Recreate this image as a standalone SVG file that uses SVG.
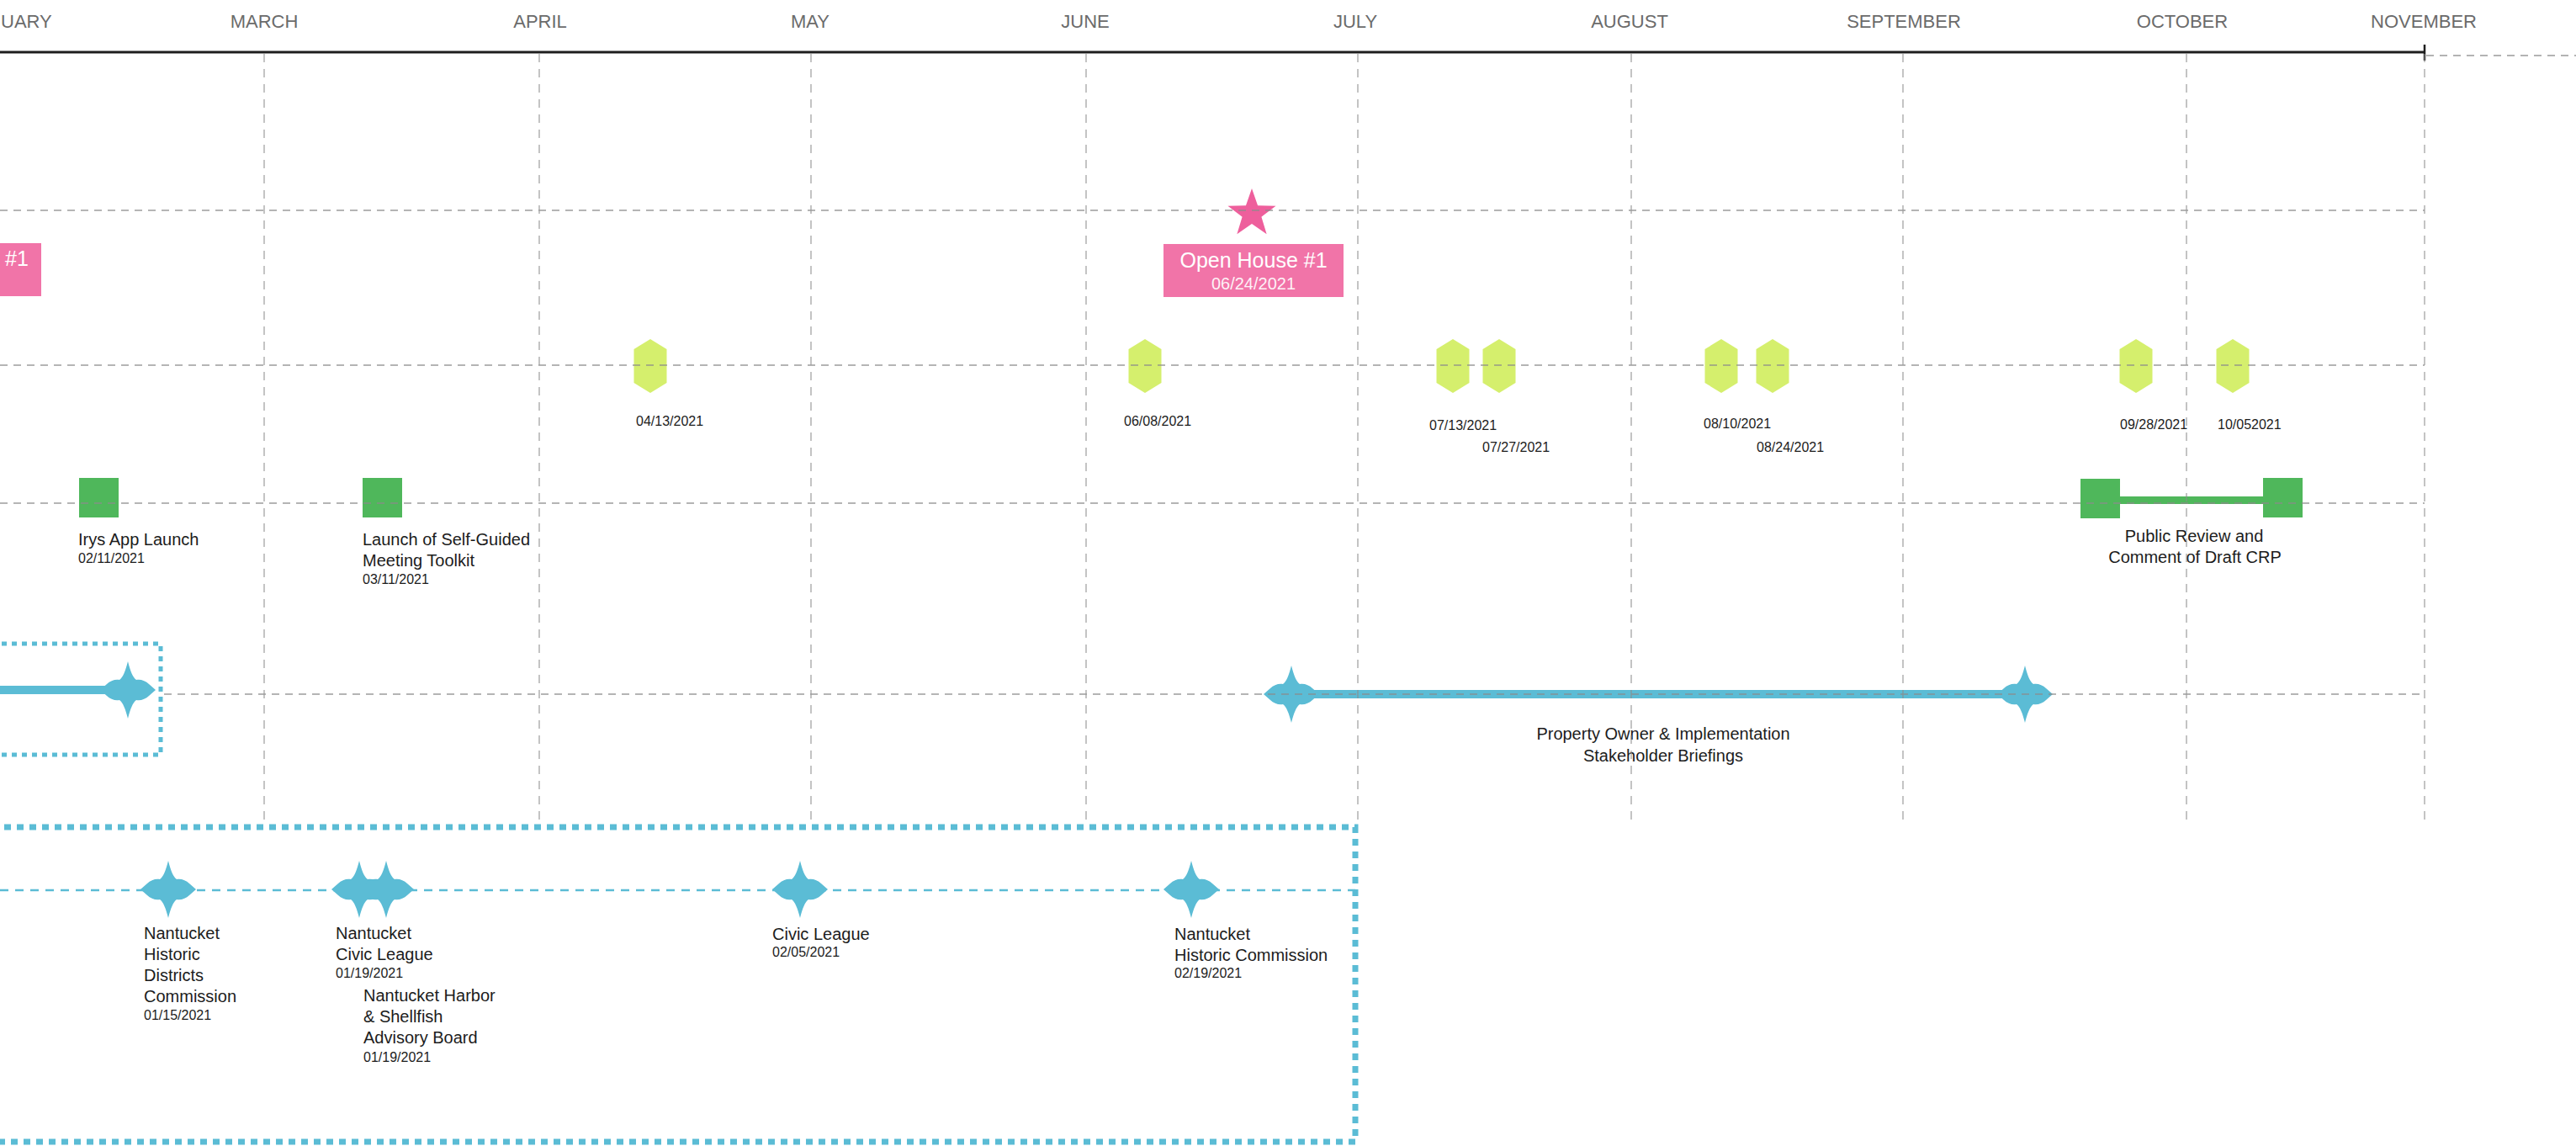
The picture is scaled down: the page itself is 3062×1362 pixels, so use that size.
<svg xmlns="http://www.w3.org/2000/svg" xmlns:xlink="http://www.w3.org/1999/xlink" width="3062" height="1362" viewBox="0 0 3062 1362">
<style>
.month{font-family:"Liberation Sans",Arial,sans-serif;font-size:22px;fill:#6b6b6b;text-anchor:middle}
.lbl{font-family:"Liberation Sans",Arial,sans-serif;font-size:20px;fill:#1c1c1c}
.date{font-family:"Liberation Sans",Arial,sans-serif;font-size:16px;fill:#1c1c1c}
.mid{text-anchor:middle}
.vgrid{stroke:#8c8c8c;stroke-width:1.2;stroke-dasharray:10 8;fill:none}
.hgrid{stroke:#8c8c8c;stroke-width:1.3;stroke-dasharray:9 7;fill:none}
.hex{fill:#d5ef6d}
.sq{fill:#4fb75b}
.tick{fill:#5bbcd5}
.pink{fill:#f174a8}
.wt{font-family:"Liberation Sans",Arial,sans-serif;fill:#ffffff;text-anchor:middle}
</style>
<defs>
<polygon id="hexa" points="0,-32 19.5,-20 19.5,20 0,32 -19.5,20 -19.5,-20"/>
<path id="blue4" d="M0,-34 C3,-22 6,-15 10,-12 C15,-13 21,-11 25,-7 L33,0 L25,7 C21,11 15,13 10,12 C6,15 3,22 0,34 C-3,22 -6,15 -10,12 C-15,13 -21,11 -25,7 L-33,0 L-25,-7 C-21,-11 -15,-13 -10,-12 C-6,-15 -3,-22 0,-34 Z"/>
</defs>
<rect x="0" y="0" width="3062" height="1362" fill="#ffffff"/>

<g id="axis">
  <line x1="0" y1="62" x2="2882" y2="62" stroke="#1e1e1e" stroke-width="3"/>
  <line x1="2882" y1="53" x2="2882" y2="72" stroke="#1e1e1e" stroke-width="2.5"/>
  <line x1="2884" y1="66" x2="3062" y2="66" stroke="#9a9a9a" stroke-width="1.5" stroke-dasharray="9 7"/>
  <text class="month" x="1" y="33" style="text-anchor:start">UARY</text>
  <text class="month" x="314" y="33">MARCH</text>
  <text class="month" x="642" y="33">APRIL</text>
  <text class="month" x="963" y="33">MAY</text>
  <text class="month" x="1290" y="33">JUNE</text>
  <text class="month" x="1611" y="33">JULY</text>
  <text class="month" x="1937" y="33">AUGUST</text>
  <text class="month" x="2263" y="33">SEPTEMBER</text>
  <text class="month" x="2594" y="33">OCTOBER</text>
  <text class="month" x="2881" y="33">NOVEMBER</text>
</g>

<g id="connectors">
  <rect x="0" y="815" width="152" height="10" fill="#5bbcd5"/>
  <rect x="1535" y="820" width="872" height="10" fill="#5bbcd5"/>
  <rect x="2500" y="590" width="210" height="9" fill="#4fb75b"/>
  <line x1="0" y1="1058" x2="1611" y2="1058" stroke="#5bbcd5" stroke-width="2.5" stroke-dasharray="10 8"/>
</g>

<g id="group-boxes" fill="none" stroke="#5bbcd5">
  <rect x="-10" y="765" width="201" height="132" stroke-width="5" stroke-dasharray="6 6"/>
  <rect x="-10" y="983" width="1621" height="374" stroke-width="7" stroke-dasharray="8 7"/>
</g>

<g id="node-openhouse-prev">
  <rect class="pink" x="-120" y="289" width="169" height="63"/>
  <text class="wt" x="20" y="316" font-size="25">#1</text>
</g>

<g id="node-openhouse1">
  <polygon fill="#ee5f9c" transform="translate(1488,254)" points="0,-30 7.05,-9.71 28.53,-9.27 11.41,3.71 17.63,24.27 0,12 -17.63,24.27 -11.41,3.71 -28.53,-9.27 -7.05,-9.71"/>
  <rect class="pink" x="1383" y="290" width="214" height="63"/>
  <text class="wt" x="1490" y="318" font-size="25">Open House #1</text>
  <text class="wt" x="1490" y="344" font-size="20" fill-opacity="0.92">06/24/2021</text>
</g>

<g id="node-h0413"><use xlink:href="#hexa" class="hex" x="773" y="435"/><text class="date" x="756" y="506">04/13/2021</text></g>
<g id="node-h0608"><use xlink:href="#hexa" class="hex" x="1361" y="435"/><text class="date" x="1336" y="506">06/08/2021</text></g>
<g id="node-h0713"><use xlink:href="#hexa" class="hex" x="1727" y="435"/><text class="date" x="1699" y="511">07/13/2021</text></g>
<g id="node-h0727"><use xlink:href="#hexa" class="hex" x="1782" y="435"/><text class="date" x="1762" y="537">07/27/2021</text></g>
<g id="node-h0810"><use xlink:href="#hexa" class="hex" x="2046" y="435"/><text class="date" x="2025" y="509">08/10/2021</text></g>
<g id="node-h0824"><use xlink:href="#hexa" class="hex" x="2107" y="435"/><text class="date" x="2088" y="537">08/24/2021</text></g>
<g id="node-h0928"><use xlink:href="#hexa" class="hex" x="2539" y="435"/><text class="date" x="2520" y="510">09/28/2021</text></g>
<g id="node-h1005"><use xlink:href="#hexa" class="hex" x="2654" y="435"/><text class="date" x="2636" y="510">10/052021</text></g>

<g id="node-irys">
  <rect class="sq" x="94" y="568" width="47" height="47"/>
  <text class="lbl" x="93" y="648">Irys App Launch</text>
  <text class="date" x="93" y="669">02/11/2021</text>
</g>
<g id="node-toolkit">
  <rect class="sq" x="431" y="568" width="47" height="47"/>
  <text class="lbl" x="431" y="648">Launch of Self-Guided</text>
  <text class="lbl" x="431" y="673">Meeting Toolkit</text>
  <text class="date" x="431" y="694">03/11/2021</text>
</g>
<g id="node-publicreview">
  <rect class="sq" x="2473" y="569" width="47" height="47"/>
  <rect class="sq" x="2690" y="568" width="47" height="47"/>
  <text class="lbl mid" x="2608" y="644">Public Review and</text>
  <text class="lbl mid" x="2609" y="669">Comment of Draft CRP</text>
</g>

<g id="node-brief-prev"><use xlink:href="#blue4" class="tick" x="152" y="820"/></g>
<g id="node-property">
  <use xlink:href="#blue4" class="tick" x="1535" y="825"/>
  <use xlink:href="#blue4" class="tick" x="2407" y="825"/>
  <text class="lbl mid" x="1977" y="879">Property Owner &amp; Implementation</text>
  <text class="lbl mid" x="1977" y="905">Stakeholder Briefings</text>
</g>

<g id="node-nhdc">
  <use xlink:href="#blue4" class="tick" x="200" y="1057"/>
  <text class="lbl" x="171" y="1116">Nantucket</text>
  <text class="lbl" x="171" y="1141">Historic</text>
  <text class="lbl" x="171" y="1166">Districts</text>
  <text class="lbl" x="171" y="1191">Commission</text>
  <text class="date" x="171" y="1212">01/15/2021</text>
</g>
<g id="node-ncl">
  <use xlink:href="#blue4" class="tick" x="427" y="1057"/>
  <text class="lbl" x="399" y="1116">Nantucket</text>
  <text class="lbl" x="399" y="1141">Civic League</text>
  <text class="date" x="399" y="1162">01/19/2021</text>
</g>
<g id="node-nhsab">
  <use xlink:href="#blue4" class="tick" x="459" y="1057"/>
  <text class="lbl" x="432" y="1190">Nantucket Harbor</text>
  <text class="lbl" x="432" y="1215">&amp; Shellfish</text>
  <text class="lbl" x="432" y="1240">Advisory Board</text>
  <text class="date" x="432" y="1262">01/19/2021</text>
</g>
<g id="node-cl">
  <use xlink:href="#blue4" class="tick" x="951" y="1057"/>
  <text class="lbl" x="918" y="1117">Civic League</text>
  <text class="date" x="918" y="1137">02/05/2021</text>
</g>
<g id="node-nhc">
  <use xlink:href="#blue4" class="tick" x="1416" y="1057"/>
  <text class="lbl" x="1396" y="1117">Nantucket</text>
  <text class="lbl" x="1396" y="1142">Historic Commission</text>
  <text class="date" x="1396" y="1162">02/19/2021</text>
</g>

<g id="grid" opacity="0.85">
  <line class="hgrid" x1="0" y1="250" x2="2882" y2="250"/>
  <line class="hgrid" x1="0" y1="434" x2="2882" y2="434"/>
  <line class="hgrid" x1="0" y1="598" x2="2882" y2="598"/>
  <line class="hgrid" x1="195" y1="825" x2="2882" y2="825"/>
  <line class="vgrid" x1="314" y1="64" x2="314" y2="978"/>
  <line class="vgrid" x1="641" y1="64" x2="641" y2="978"/>
  <line class="vgrid" x1="964" y1="64" x2="964" y2="978"/>
  <line class="vgrid" x1="1291" y1="64" x2="1291" y2="978"/>
  <line class="vgrid" x1="1614" y1="64" x2="1614" y2="978"/>
  <line class="vgrid" x1="1939" y1="64" x2="1939" y2="978"/>
  <line class="vgrid" x1="2262" y1="64" x2="2262" y2="978"/>
  <line class="vgrid" x1="2599" y1="64" x2="2599" y2="978"/>
  <line class="vgrid" x1="2882" y1="64" x2="2882" y2="978"/>
</g>
</svg>
